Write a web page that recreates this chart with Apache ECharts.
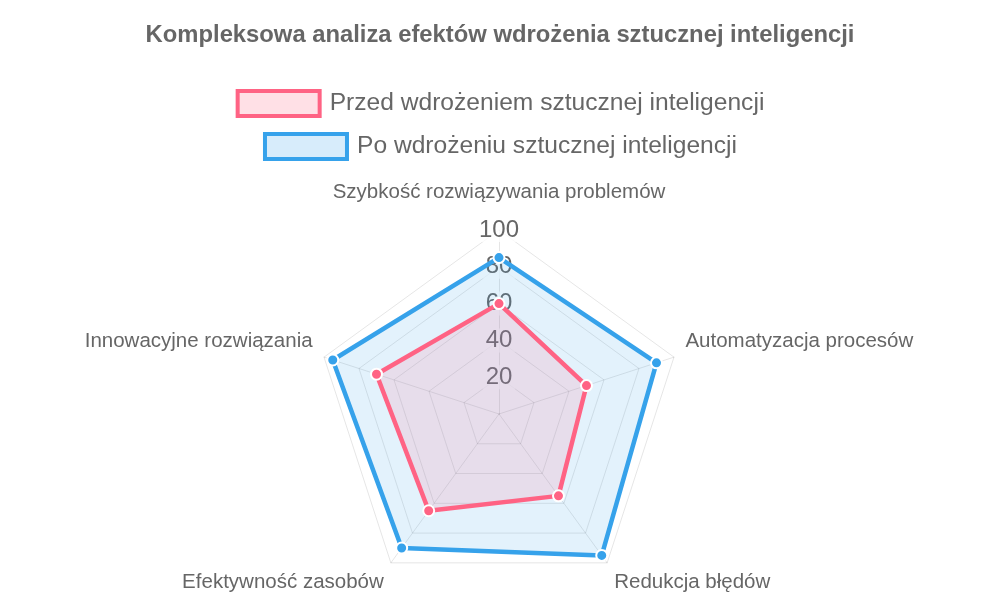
<!DOCTYPE html>
<html>
<head>
<meta charset="utf-8">
<script src="https://cdn.jsdelivr.net/npm/echarts@6/dist/echarts.min.js"></script>
<style>
html,body{margin:0;padding:0;background:#fff;}
#chart{width:1000px;height:600px;}
</style>
</head>
<body>
<div id="chart"></div>
<script>
// Data (clockwise order as in the reference, starting at the top)
const categories = [
  'Szybkość rozwiązywania problemów',
  'Automatyzacja procesów',
  'Redukcja błędów',
  'Efektywność zasobów',
  'Innowacyjne rozwiązania'
];
const seriesNames = ['Przed wdrożeniem sztucznej inteligencji', 'Po wdrożeniu sztucznej inteligencji'];
const beforeValues = [60, 50, 55, 65, 70];
const afterValues = [85, 90, 95, 90, 95];
const maxValue = 100;
const tickStep = 20;

// ECharts radar lays indicators counter-clockwise; reorder to get clockwise layout
const order = [0, 4, 3, 2, 1];
const reorder = arr => order.map(i => arr[i]);

const FONT = 'Liberation Sans, Arial, Helvetica, sans-serif';
const GREY = '#666666';

// per-position label styles to mimic the reference label placement
const posStyle = ['top', 'side', 'bottom', 'bottom', 'side'];
const NAME_SIZE = 20.5;
const richStyles = {
  top: {fontSize: NAME_SIZE, color: GREY, fontFamily: FONT, padding: [0, 0, 15, 0]},
  side: {fontSize: NAME_SIZE, color: GREY, fontFamily: FONT, padding: [0, 0, 24, 0]},
  bottom: {fontSize: NAME_SIZE, color: GREY, fontFamily: FONT, padding: [20, 0, 0, 0]}
};

const indicators = order.map((ci, k) => {
  const ind = {name: categories[ci], max: maxValue, min: 0};
  if (k === 0) {
    ind.axisLabel = {
      show: true,
      margin: 0,
      align: 'center',
      verticalAlign: 'middle',
      fontSize: 24,
      color: GREY,
      fontFamily: FONT,
      backgroundColor: 'rgba(255,255,255,0.75)',
      padding: [0, 3],
      formatter: v => (v === 0 ? '' : String(v))
    };
  }
  return ind;
});

const chart = echarts.init(document.getElementById('chart'), null, {renderer: 'canvas'});
chart.setOption({
  animation: false,
  backgroundColor: '#ffffff',
  title: {
    text: 'Kompleksowa analiza efektów wdrożenia sztucznej inteligencji',
    left: 'center',
    top: 18,
    textStyle: {fontSize: 23.8, fontWeight: 'bold', color: GREY, fontFamily: FONT}
  },
  legend: [
    {
      left: 'center', top: 84, itemWidth: 82, itemHeight: 25,
      textStyle: {fontSize: 24.6, color: GREY, fontFamily: FONT, padding: [0, 0, 0, 5]},
      data: [{name: seriesNames[0], icon: 'rect',
        itemStyle: {color: 'rgba(255,99,132,0.2)', borderColor: '#FF6384', borderWidth: 4}}],
      selectedMode: false
    },
    {
      left: 'center', top: 127, itemWidth: 82, itemHeight: 25,
      textStyle: {fontSize: 24.6, color: GREY, fontFamily: FONT, padding: [0, 0, 0, 5]},
      data: [{name: seriesNames[1], icon: 'rect',
        itemStyle: {color: 'rgba(54,162,235,0.2)', borderColor: '#36A2EB', borderWidth: 4}}],
      selectedMode: false
    }
  ],
  radar: {
    center: [499, 414],
    radius: 184,
    startAngle: 90,
    splitNumber: maxValue / tickStep,
    shape: 'polygon',
    z: 1,
    axisNameGap: 12,
    axisName: {
      formatter: function (name) {
        const k = order.findIndex(ci => categories[ci] === name);
        return '{' + posStyle[k] + '|' + name + '}';
      },
      rich: richStyles,
      color: GREY,
      fontSize: NAME_SIZE,
      fontFamily: FONT
    },
    axisLine: {lineStyle: {color: 'rgba(0,0,0,0.1)', width: 1}},
    splitLine: {lineStyle: {color: 'rgba(0,0,0,0.1)', width: 1}},
    splitArea: {show: false},
    axisTick: {show: false},
    axisLabel: {show: false},
    indicator: indicators
  },
  series: [{
    type: 'radar',
    z: 3,
    data: [
      {
        name: seriesNames[1],
        value: reorder(afterValues),
        symbol: 'circle', symbolSize: 11,
        lineStyle: {color: '#36A2EB', width: 4.5},
        itemStyle: {color: '#36A2EB', borderColor: '#ffffff', borderWidth: 2},
        areaStyle: {color: 'rgba(54,162,235,0.2)'}
      },
      {
        name: seriesNames[0],
        value: reorder(beforeValues),
        symbol: 'circle', symbolSize: 11,
        lineStyle: {color: '#FF6384', width: 4.5},
        itemStyle: {color: '#FF6384', borderColor: '#ffffff', borderWidth: 2},
        areaStyle: {color: 'rgba(255,99,132,0.2)'}
      }
    ]
  }]
});
</script>
</body>
</html>
